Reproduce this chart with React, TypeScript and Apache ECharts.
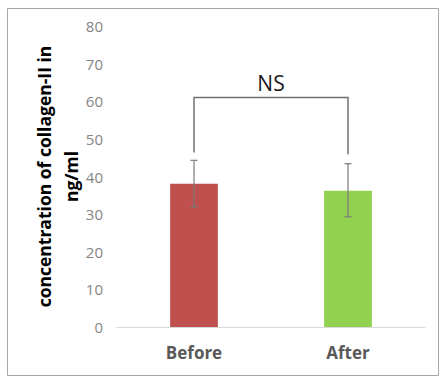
import React, { useEffect, useRef } from "react";
import * as echarts from "echarts";

const categories = ["Before", "After"];
const means = [38.1, 36.2];
const errLow = [31.9, 29.3];
const errHigh = [44.3, 43.4];
const barColors = ["#c0504d", "#92d050"];
const yTicks = { min: 0, max: 80, interval: 10 };
const bracketTop = 61;
const bracketLegBottoms = [46.4, 45.9];
const bracketLabel = "NS";

export default function App() {
  const ref = useRef<HTMLDivElement>(null);
  useEffect(() => {
    if (!ref.current) return;
    const chart = echarts.init(ref.current, null, { renderer: "svg" });
    const option = {
      animation: false,
      backgroundColor: "#ffffff",
      grid: { left: 117, right: 15, top: 26, bottom: 50 },
      graphic: [
        {
          type: "rect",
          shape: { x: 7.5, y: 8.5, width: 431, height: 367 },
          style: { fill: "none", stroke: "#a6a6a6", lineWidth: 1 },
          silent: true,
        },
      ],
      xAxis: {
        type: "category",
        data: categories,
        axisLine: { lineStyle: { color: "#d9d9d9", width: 1 } },
        axisTick: { show: false },
        axisLabel: {
          color: "#595959",
          fontFamily: "Open Sans",
          fontWeight: "bold",
          fontSize: 17,
          margin: 17,
        },
      },
      yAxis: {
        type: "value",
        min: yTicks.min,
        max: yTicks.max,
        interval: yTicks.interval,
        splitLine: { show: false },
        axisLine: { show: false },
        axisTick: { show: false },
        axisLabel: {
          color: "#858585",
          fontFamily: "Open Sans",
          fontSize: 15,
          margin: 14,
        },
        name: "concentration of collagen-II in\nng/ml",
        nameLocation: "middle",
        nameGap: 33,
        nameMoveOverlap: false,
        nameTextStyle: {
          color: "#000000",
          fontFamily: "Open Sans",
          fontWeight: "bold",
          fontSize: 17.5,
          lineHeight: 27,
        },
      },
      series: [
        {
          type: "bar",
          barWidth: "31%",
          data: means.map((v, i) => ({ value: v, itemStyle: { color: barColors[i] } })),
        },
        {
          type: "custom",
          data: categories.map((_, i) => [i, errLow[i], errHigh[i]]),
          z: 5,
          renderItem: (params: any, api: any) => {
            const i = api.value(0);
            const lo = api.coord([i, api.value(1)]);
            const hi = api.coord([i, api.value(2)]);
            const cap = 3.5;
            const style = { stroke: "#7a7a7a", lineWidth: 1.2 };
            return {
              type: "group",
              children: [
                { type: "line", shape: { x1: hi[0], y1: hi[1], x2: lo[0], y2: lo[1] }, style },
                { type: "line", shape: { x1: hi[0] - cap, y1: hi[1], x2: hi[0] + cap, y2: hi[1] }, style },
                { type: "line", shape: { x1: lo[0] - cap, y1: lo[1], x2: lo[0] + cap, y2: lo[1] }, style },
              ],
            };
          },
        },
        {
          type: "custom",
          data: [[0, 1, bracketTop, bracketLegBottoms[0], bracketLegBottoms[1]]],
          z: 5,
          renderItem: (params: any, api: any) => {
            const a = api.value(0);
            const b = api.value(1);
            const top = api.value(2);
            const p1 = api.coord([a, api.value(3)]);
            const p2 = api.coord([a, top]);
            const p3 = api.coord([b, top]);
            const p4 = api.coord([b, api.value(4)]);
            return {
              type: "group",
              children: [
                {
                  type: "polyline",
                  shape: { points: [p1, p2, p3, p4] },
                  style: { stroke: "#707070", lineWidth: 1.5, fill: "none" },
                },
                {
                  type: "text",
                  style: {
                    text: bracketLabel,
                    x: (p2[0] + p3[0]) / 2,
                    y: p2[1] - 4,
                    align: "center",
                    verticalAlign: "bottom",
                    fill: "#1a1a1a",
                    fontFamily: "Open Sans",
                    fontSize: 21,
                  },
                },
              ],
            };
          },
        },
      ],
    };
    chart.setOption(option as any);
    return () => chart.dispose();
  }, []);
  return (
    <div
      ref={ref}
      style={{ position: "absolute", left: 0, top: 0, width: 440, height: 377 }}
    />
  );
}
